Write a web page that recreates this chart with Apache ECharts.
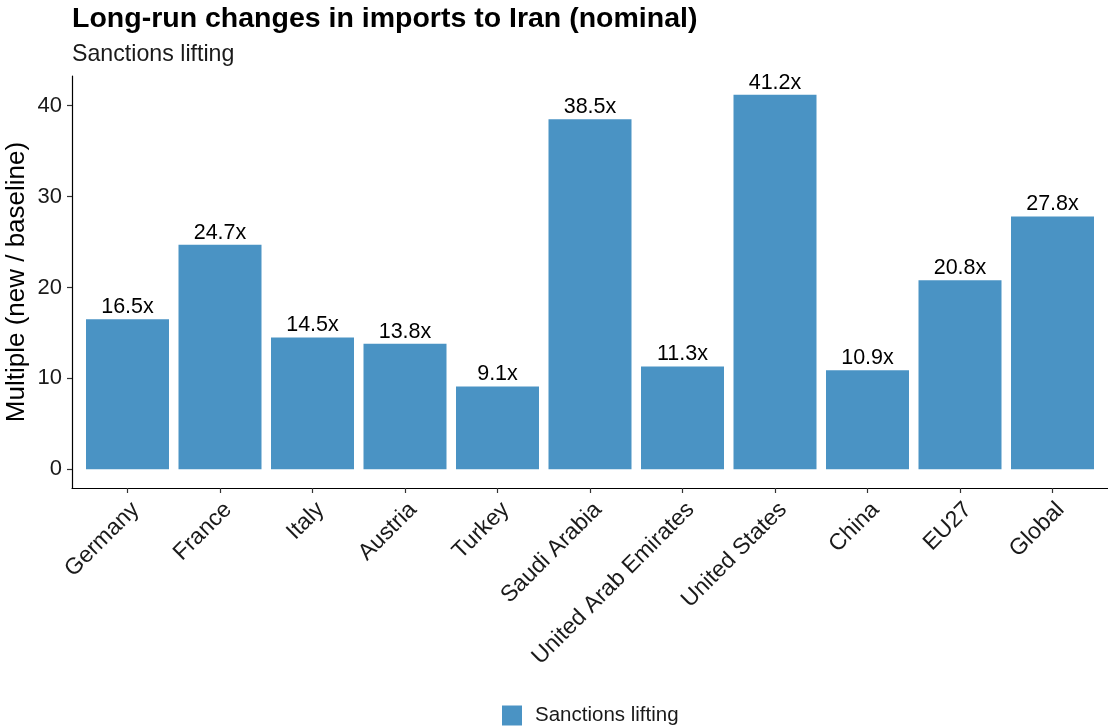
<!DOCTYPE html>
<html>
<head>
<meta charset="utf-8">
<script src="https://cdn.jsdelivr.net/npm/echarts@6/dist/echarts.min.js"></script>
<style>html,body{margin:0;padding:0;background:#fff;}#c{width:1108px;height:727px;}</style>
</head>
<body>
<div id="c"></div>
<script>
const categories = ["Germany","France","Italy","Austria","Turkey","Saudi Arabia","United Arab Emirates","United States","China","EU27","Global"];
const values = [16.5, 24.7, 14.5, 13.8, 9.1, 38.5, 11.3, 41.2, 10.9, 20.8, 27.8];
const yTicks = [0, 10, 20, 30, 40];
const seriesName = "Sanctions lifting";

const positions = categories.map((c, i) => i + 1);
const font = "'Liberation Sans', Arial, sans-serif";
const chart = echarts.init(document.getElementById('c'), null, {renderer: 'canvas'});
const yMax = Math.max(...values) * 1.05;
const yMin = -Math.max(...values) * 0.05;

chart.setOption({
  animation: false,
  backgroundColor: '#ffffff',
  title: {
    text: 'Long-run changes in imports to Iran (nominal)',
    subtext: 'Sanctions lifting',
    left: 67, top: 0,
    itemGap: 9,
    textStyle: {fontFamily: font, fontWeight: 'bold', fontSize: 28.5, color: '#000'},
    subtextStyle: {fontFamily: font, fontSize: 23.2, color: '#1a1a1a'}
  },
  legend: {
    left: 497, top: 700,
    itemWidth: 20, itemHeight: 20, itemGap: 10,
    icon: 'rect',
    textStyle: {fontFamily: font, fontSize: 20.5, color: '#1a1a1a', padding: [0, 0, 0, 8]},
    data: [seriesName]
  },
  grid: {left: 72, right: 0, top: 76, bottom: 239, containLabel: false, outerBoundsMode: 'none'},
  xAxis: {
    type: 'value',
    min: 0.4, max: categories.length + 0.6,
    splitLine: {show: false},
    axisLine: {show: true, onZero: false, lineStyle: {color: '#000', width: 1.2}},
    axisTick: {show: true, length: 5, customValues: positions, lineStyle: {color: '#333', width: 1.2}},
    axisLabel: {
      customValues: positions,
      rotate: 45, margin: 10,
      align: 'right', verticalAlign: 'top',
      fontFamily: font, fontSize: 23, color: '#1a1a1a',
      formatter: v => categories[Math.round(v) - 1] || ''
    }
  },
  yAxis: {
    type: 'value',
    min: yMin, max: yMax,
    name: 'Multiple (new / baseline)',
    nameLocation: 'middle', nameGap: 42,
    nameMoveOverlap: false,
    nameTextStyle: {fontFamily: font, fontSize: 26, color: '#000'},
    splitLine: {show: false},
    axisLine: {show: true, onZero: false, lineStyle: {color: '#000', width: 1.2}},
    axisTick: {show: true, length: 5, customValues: yTicks, lineStyle: {color: '#333', width: 1.2}},
    axisLabel: {customValues: yTicks, margin: 10, fontFamily: font, fontSize: 22, color: '#1a1a1a'}
  },
  series: [{
    name: seriesName,
    type: 'bar',
    barWidth: 83,
    itemStyle: {color: '#4a93c4'},
    label: {
      show: true, position: 'top', distance: 1,
      fontFamily: font, fontSize: 21.5, color: '#000',
      formatter: p => p.value[1].toFixed(1) + 'x'
    },
    data: values.map((v, i) => [positions[i], v])
  }]
});
</script>
</body>
</html>
